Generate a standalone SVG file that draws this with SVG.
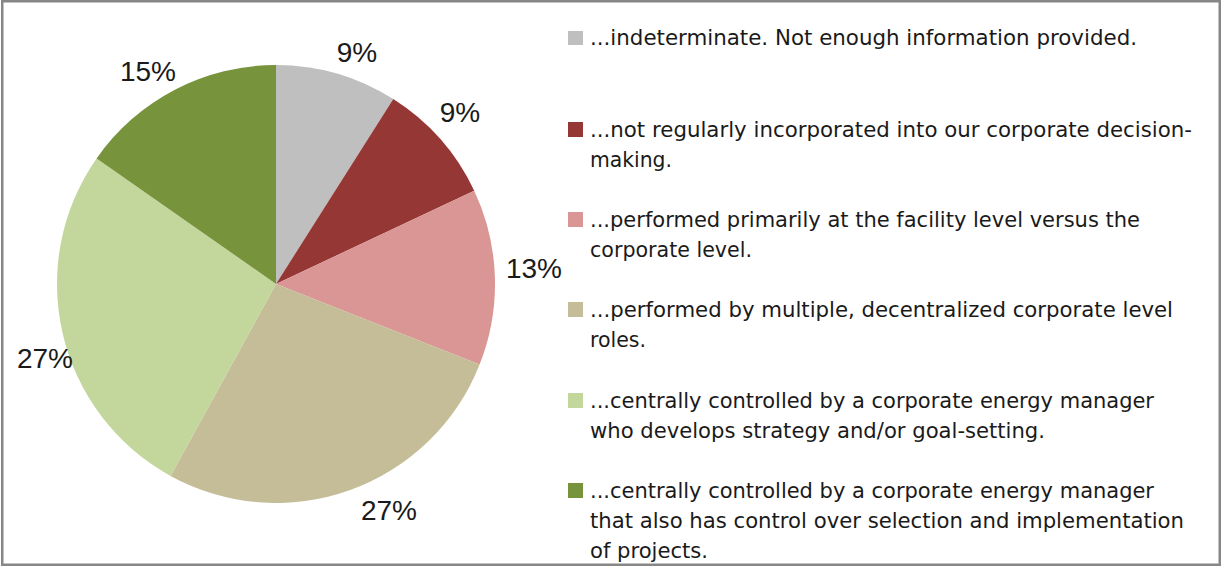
<svg xmlns="http://www.w3.org/2000/svg" width="1223" height="568" viewBox="0 0 1223 568">
<style>
.pct{font-family:"Liberation Sans",Arial,sans-serif;font-size:28px;fill:#1a1a1a;text-anchor:middle}
.lg{font-family:"DejaVu Sans","Liberation Sans",sans-serif;font-size:21px;fill:#1a1a1a}
</style>
<rect x="0" y="0" width="1223" height="568" fill="#ffffff"/>
<rect x="2.25" y="1.25" width="1217.5" height="563.5" fill="#ffffff" stroke="#878787" stroke-width="2.5"/>
<g id="pie">
<path id="s1" d="M276,284 L276,65 A219,219 0 0 1 393.3,99.1 Z" fill="#BFBFBF"/>
<path id="s2" d="M276,284 L393.3,99.1 A219,219 0 0 1 474.2,190.7 Z" fill="#953735"/>
<path id="s3" d="M276,284 L474.2,190.7 A219,219 0 0 1 479.6,364.6 Z" fill="#D99694"/>
<path id="s4" d="M276,284 L479.6,364.6 A219,219 0 0 1 170.5,475.9 Z" fill="#C4BD97"/>
<path id="s5" d="M276,284 L170.5,475.9 A219,219 0 0 1 96.6,158.4 Z" fill="#C3D69B"/>
<path id="s6" d="M276,284 L96.6,158.4 A219,219 0 0 1 276,65 Z" fill="#77933C"/>
</g>
<g id="labels">
<text class="pct" x="357" y="62">9%</text>
<text class="pct" x="460" y="122">9%</text>
<text class="pct" x="534" y="278">13%</text>
<text class="pct" x="389" y="520">27%</text>
<text class="pct" x="45" y="368">27%</text>
<text class="pct" x="148" y="81">15%</text>
</g>
<g id="legend">
<g id="lg1"><rect x="568" y="31" width="15" height="14" fill="#BFBFBF"/><text class="lg" x="590" y="45" textLength="547" lengthAdjust="spacingAndGlyphs">...indeterminate. Not enough information provided.</text></g>
<g id="lg2"><rect x="568" y="122" width="15" height="15" fill="#953735"/><text class="lg" x="590" y="137" textLength="602" lengthAdjust="spacingAndGlyphs">...not regularly incorporated into our corporate decision-</text><text class="lg" x="590" y="167" textLength="82" lengthAdjust="spacingAndGlyphs">making.</text></g>
<g id="lg3"><rect x="568" y="212" width="15" height="15" fill="#D99694"/><text class="lg" x="590" y="227" textLength="550" lengthAdjust="spacingAndGlyphs">...performed primarily at the facility level versus the</text><text class="lg" x="590" y="257" textLength="162" lengthAdjust="spacingAndGlyphs">corporate level.</text></g>
<g id="lg4"><rect x="568" y="302" width="15" height="15" fill="#C4BD97"/><text class="lg" x="590" y="317" textLength="583" lengthAdjust="spacingAndGlyphs">...performed by multiple, decentralized corporate level</text><text class="lg" x="590" y="347" textLength="56" lengthAdjust="spacingAndGlyphs">roles.</text></g>
<g id="lg5"><rect x="568" y="393" width="15" height="15" fill="#C3D69B"/><text class="lg" x="590" y="408" textLength="564" lengthAdjust="spacingAndGlyphs">...centrally controlled by a corporate energy manager</text><text class="lg" x="590" y="438" textLength="455" lengthAdjust="spacingAndGlyphs">who develops strategy and/or goal-setting.</text></g>
<g id="lg6"><rect x="568" y="483" width="15" height="15" fill="#77933C"/><text class="lg" x="590" y="498" textLength="564" lengthAdjust="spacingAndGlyphs">...centrally controlled by a corporate energy manager</text><text class="lg" x="590" y="528" textLength="594" lengthAdjust="spacingAndGlyphs">that also has control over selection and implementation</text><text class="lg" x="590" y="558" textLength="118" lengthAdjust="spacingAndGlyphs">of projects.</text></g>
</g>
</svg>
